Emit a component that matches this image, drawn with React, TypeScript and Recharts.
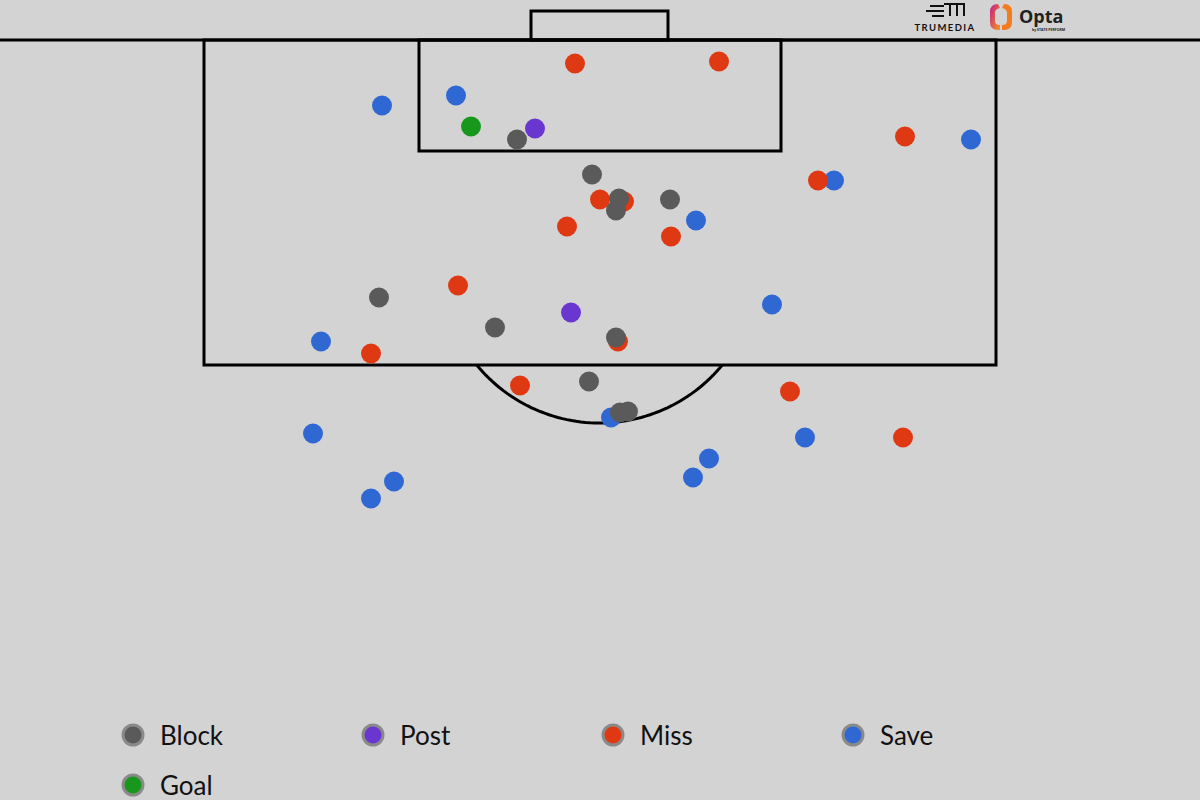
import { ScatterChart, Scatter, XAxis, YAxis, ReferenceArea, ReferenceLine } from 'recharts';

// shot locations in pitch units (goal line at y = 40, top of the view = 0)
const blockX = [517, 592, 619, 616, 670, 379, 495, 616, 589, 620, 628];
const blockY = [139, 174, 198, 210, 199, 297, 327, 337, 381, 412, 411];
const postX = [535, 571];
const postY = [128, 312];
const missX = [575, 719, 905, 818, 600, 624, 567, 671, 458, 371, 618, 520, 790, 903];
const missY = [63, 61, 136, 180, 199, 201, 226, 236, 285, 353, 341, 385, 391, 437];
const saveX = [382, 456, 971, 834, 696, 772, 321, 313, 394, 371, 611, 709, 693, 805];
const saveY = [105, 95, 139, 180, 220, 304, 341, 433, 481, 498, 417, 458, 477, 437];
const goalX = [471];
const goalY = [126];

const outcomes = ['Block', 'Post', 'Miss', 'Save', 'Goal'];
const colors: Record<string, string> = {
  Block: '#5a5a5a',
  Post: '#6a36d0',
  Miss: '#df3913',
  Save: '#2f68d3',
  Goal: '#17981c',
};

const toPoints = (xs: number[], ys: number[]) => xs.map((x, i) => ({ x, y: ys[i] }));

// penalty arc outside the box
const arc = (() => {
  const cx = 599.5;
  const cy = 264;
  const r = 159;
  const boxEdge = 365;
  const a0 = Math.asin((boxEdge - cy) / r);
  const pts = [];
  for (let i = 0; i <= 60; i++) {
    const a = a0 + ((Math.PI - 2 * a0) * i) / 60;
    pts.push({ x: cx + r * Math.cos(a), y: cy + r * Math.sin(a) });
  }
  return pts;
})();

const dot = (color: string) => (props: any) => (
  <circle cx={props.cx} cy={props.cy + 0.5} r={10} fill={color} />
);

function Logos() {
  return (
    <svg
      width={200}
      height={40}
      style={{ position: 'absolute', left: 900, top: 0 }}
    >
      <defs>
        <linearGradient id="optaGrad" x1="0" y1="0" x2="1" y2="1">
          <stop offset="0%" stopColor="#c2208a" />
          <stop offset="100%" stopColor="#f7941d" />
        </linearGradient>
      </defs>
      {/* trumedia mark */}
      <g stroke="#111" strokeWidth={2} fill="none">
        <line x1={30} y1={6} x2={44} y2={6} />
        <line x1={26} y1={11} x2={44} y2={11} />
        <line x1={32} y1={16} x2={44} y2={16} />
        <path d="M44 4 L64 4 L64 16 M50 4 L50 16 M57 4 L57 16" />
      </g>
      <text
        x={45}
        y={31}
        textAnchor="middle"
        fontFamily="Lato, sans-serif"
        fontWeight={700}
        fontSize={9.5}
        letterSpacing={1.4}
        fill="#111"
      >
        TRUMEDIA
      </text>
      {/* opta mark */}
      <path
        d="M98 4 Q90 4 90 12 L90 22 Q90 30 98 30 L100 30 L100 25 Q95 25 95 21 L95 13 Q95 9 100 8 Z"
        fill="url(#optaGrad)"
      />
      <path
        d="M104 4 Q112 4 112 12 L112 22 Q112 30 104 30 L102 30 L102 25 Q107 25 107 21 L107 13 Q107 9 102 8 Z"
        fill="#f47c20"
      />
      <text
        x={119}
        y={23}
        fontFamily="'Open Sans', sans-serif"
        fontWeight={700}
        fontSize={18}
        fill="#222"
      >
        Opta
      </text>
      <text
        x={132}
        y={31}
        fontFamily="'Open Sans', sans-serif"
        fontWeight={700}
        fontSize={3.5}
        fill="#222"
      >
        by STATS PERFORM
      </text>
    </svg>
  );
}

function ShotLegend() {
  const rows = [outcomes.slice(0, 4), outcomes.slice(4)];
  return (
    <div style={{ position: 'absolute', left: 0, top: 0 }}>
      {rows.map((row, ri) =>
        row.map((name, ci) => (
          <div
            key={name}
            style={{
              position: 'absolute',
              left: 120 + ci * 240,
              top: 718 + ri * 50,
              height: 34,
              display: 'flex',
              alignItems: 'center',
              whiteSpace: 'nowrap',
            }}
          >
            <svg width={28} height={28}>
              <circle cx={13} cy={14} r={10} fill={colors[name]} stroke="#8a8a8a" strokeWidth={3} />
            </svg>
            <span
              style={{
                marginLeft: 12,
                fontFamily: 'Lato, sans-serif',
                fontSize: 26,
                color: '#111',
              }}
            >
              {name}
            </span>
          </div>
        ))
      )}
    </div>
  );
}

export default function App() {
  const series: Record<string, { x: number; y: number }[]> = {
    Block: toPoints(blockX, blockY),
    Post: toPoints(postX, postY),
    Miss: toPoints(missX, missY),
    Save: toPoints(saveX, saveY),
    Goal: toPoints(goalX, goalY),
  };
  // draw order: saves under misses under the rest
  const order = ['Save', 'Miss', 'Goal', 'Post', 'Block'];

  return (
    <div
      style={{
        position: 'fixed',
        left: 0,
        top: 0,
        width: 1200,
        height: 800,
        background: '#d3d3d3',
        overflow: 'hidden',
      }}
    >
      <ScatterChart width={1200} height={800} margin={{ top: 0, right: 0, bottom: 0, left: 0 }}>
        <XAxis type="number" dataKey="x" domain={[0, 1200]} hide />
        <YAxis type="number" dataKey="y" domain={[0, 800]} reversed hide />
        <ReferenceLine y={40} stroke="#000" strokeWidth={3} />
        <ReferenceArea x1={204} x2={996} y1={40} y2={365} fill="none" stroke="#000" strokeWidth={3} />
        <ReferenceArea x1={419} x2={781} y1={40} y2={151} fill="none" stroke="#000" strokeWidth={3} />
        <ReferenceArea x1={531} x2={668} y1={11} y2={40} fill="none" stroke="#000" strokeWidth={3} />
        <Scatter
          data={arc}
          line={{ stroke: '#000', strokeWidth: 3 }}
          lineType="joint"
          shape={() => <g />}
          isAnimationActive={false}
        />
        {order.map((name) => (
          <Scatter
            key={name}
            name={name}
            data={series[name]}
            shape={dot(colors[name])}
            isAnimationActive={false}
          />
        ))}
      </ScatterChart>
      <Logos />
      <ShotLegend />
    </div>
  );
}
